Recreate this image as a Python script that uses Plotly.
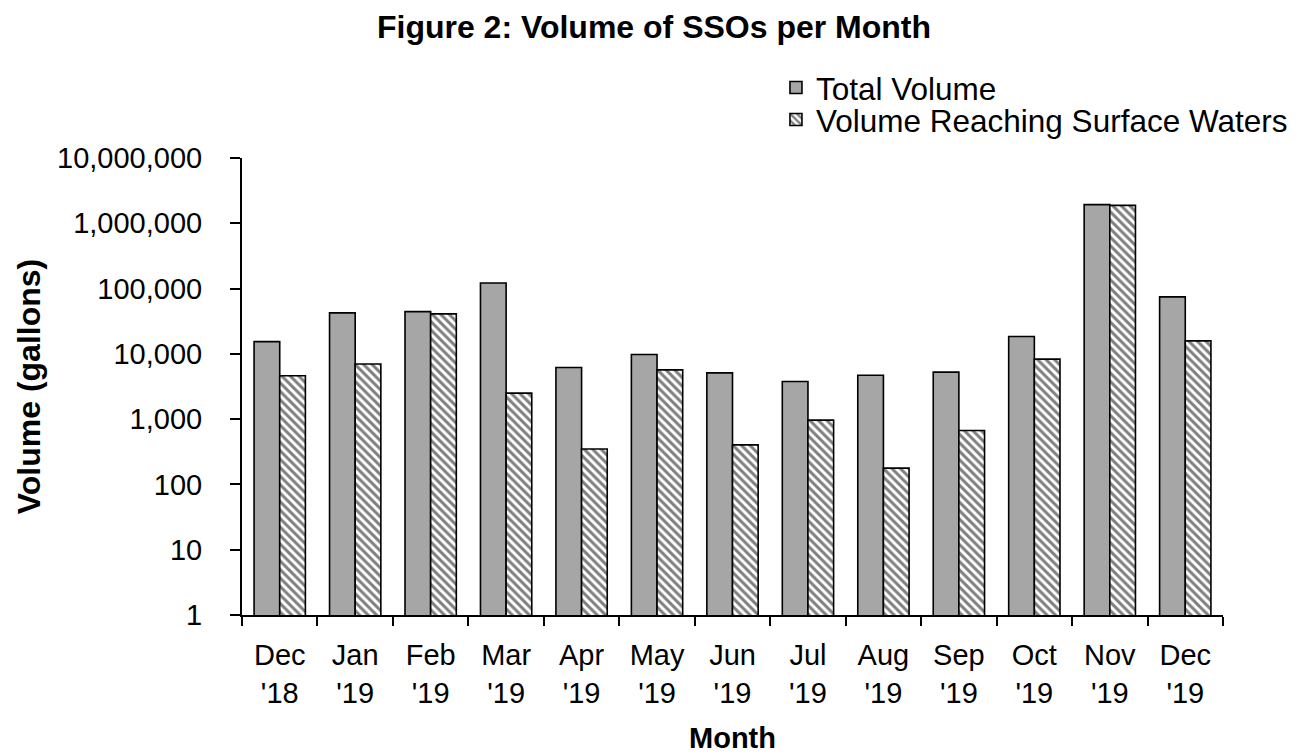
import plotly.graph_objects as go

months = ["Dec<br>'18", "Jan<br>'19", "Feb<br>'19", "Mar<br>'19", "Apr<br>'19", "May<br>'19",
          "Jun<br>'19", "Jul<br>'19", "Aug<br>'19", "Sep<br>'19", "Oct<br>'19", "Nov<br>'19", "Dec<br>'19"]
total_volume = [15400, 42400, 44400, 122000, 6170, 9750, 5110, 3770, 4710, 5250, 18400, 1930000, 74500]
surface_volume = [4630, 7000, 40900, 2500, 348, 5690, 404, 966, 178, 670, 8290, 1880000, 15800]
y_tickvals = [1, 10, 100, 1000, 10000, 100000, 1000000, 10000000]
y_ticktext = ["1", "10", "100", "1,000", "10,000", "100,000", "1,000,000", "10,000,000"]

FONT = "Arial, 'Liberation Sans', sans-serif"

fig = go.Figure()
fig.add_trace(go.Bar(
    x=months, y=total_volume, name="Total Volume", legend="legend",
    marker=dict(color="#A6A6A6", line=dict(color="black", width=1.6)),
))
fig.add_trace(go.Bar(
    x=months, y=surface_volume, name="Volume Reaching Surface Waters", legend="legend2",
    marker=dict(color="white", line=dict(color="black", width=1.6),
                pattern=dict(shape="\\", fgcolor="black", bgcolor="white", size=6, solidity=0.5)),
))

legend_common = dict(x=0.5443, xanchor="left", yanchor="top",
                     font=dict(family=FONT, size=31.5, color="black"),
                     bgcolor="rgba(0,0,0,0)")

fig.update_layout(
    width=1292, height=746,
    showlegend=True,
    paper_bgcolor="white", plot_bgcolor="white",
    font=dict(family=FONT, color="black", size=29),
    barmode="group", bargap=0.32, bargroupgap=0,
    margin=dict(l=234, r=77, t=150, b=139, autoexpand=False),
    title=dict(text="<b>Figure 2: Volume of SSOs per Month</b>", x=0.5, xanchor="center",
               y=1 - 19 / 746, yanchor="middle", yref="container",
               font=dict(family=FONT, size=32, color="black")),
    legend=dict(y=1.2133, **legend_common),
    legend2=dict(y=1.1433, **legend_common),
    xaxis=dict(
        automargin=False,
        showline=True, linecolor="black", linewidth=2,
        ticks="outside", tickson="boundaries", ticklen=9, tickwidth=2, tickcolor="black",
        tickfont=dict(family=FONT, size=29, color="black"),
        ticklabelstandoff=13,
        showgrid=False, zeroline=False,
        title=dict(text="<b>Month</b>", font=dict(family=FONT, size=29, color="black"), standoff=24),
    ),
    yaxis=dict(
        automargin=False,
        type="log", range=[0, 7],
        tickvals=y_tickvals, ticktext=y_ticktext,
        showline=True, linecolor="black", linewidth=2,
        ticks="outside", ticklen=10, tickwidth=2, tickcolor="black",
        tickfont=dict(family=FONT, size=29, color="black"),
        ticklabelstandoff=22,
        showgrid=False, zeroline=False,
        title=dict(text="<b>Volume (gallons)</b>", font=dict(family=FONT, size=32, color="black"), standoff=7),
    ),
)

fig.write_html("out.html")
